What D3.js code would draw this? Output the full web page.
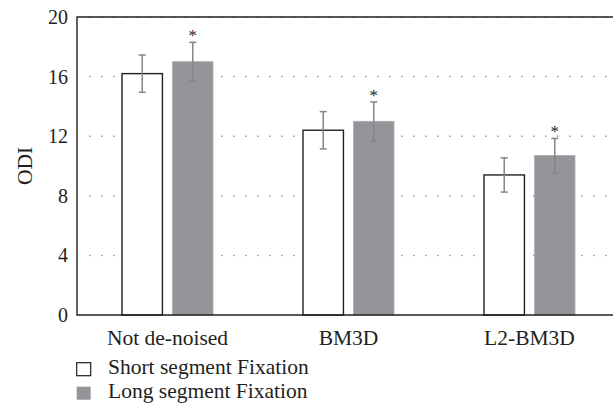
<!DOCTYPE html>
<html>
<head>
<meta charset="utf-8">
<script src="https://cdn.jsdelivr.net/npm/d3@7"></script>
<style>
  html, body { margin: 0; padding: 0; background: #fff; }
  svg { display: block; }
  text { font-family: "Liberation Serif", "DejaVu Serif", serif; fill: #231f20; }
</style>
</head>
<body>
<svg id="chart" width="613" height="404"></svg>
<script>
// ODI by de-noising method, short vs long segment fixation (mean ± error)
const categories = ["Not de-noised", "BM3D", "L2-BM3D"];
const seriesNames = ["Short segment Fixation", "Long segment Fixation"];
const shortValues = [16.2, 12.4, 9.4];
const longValues = [17.0, 13.0, 10.7];
const shortErrors = [1.25, 1.25, 1.15];
const longErrors = [1.3, 1.3, 1.15];
const longSignificant = [true, true, true];
const yTicks = [0, 4, 8, 12, 16, 20];
const yLabel = "ODI";

const svg = d3.select("#chart");

const margin = { left: 77, top: 17, bottom: 315, right: 620 };

const y = d3.scaleLinear().domain([0, 20]).range([margin.bottom, margin.top]);
const x0 = d3.scaleBand().domain(categories).range([margin.left, margin.right]).padding(0);
const x1 = d3.scaleBand().domain(["short", "long"]).range([0, x0.bandwidth()])
  .paddingInner(0.2).paddingOuter(0.89);

const rows = categories.map((c, i) => ({
  category: c,
  bars: [
    { key: "short", value: shortValues[i], err: shortErrors[i], star: false },
    { key: "long", value: longValues[i], err: longErrors[i], star: longSignificant[i] }
  ]
}));

// dotted horizontal gridlines
svg.append("g").selectAll("line").data(yTicks.filter(t => t > 0)).join("line")
  .attr("x1", margin.left + 12).attr("x2", margin.right)
  .attr("y1", d => y(d)).attr("y2", d => y(d))
  .attr("stroke", "#9a9a9a").attr("stroke-width", 1.5)
  .attr("stroke-dasharray", "1.5,10.5");

// bars
const groups = svg.append("g").selectAll("g").data(rows).join("g")
  .attr("transform", d => `translate(${x0(d.category)},0)`);

groups.selectAll("rect").data(d => d.bars).join("rect")
  .attr("x", d => x1(d.key))
  .attr("width", x1.bandwidth())
  .attr("y", d => y(d.value))
  .attr("height", d => y(0) - y(d.value))
  .attr("fill", d => d.key === "short" ? "#ffffff" : "#939598")
  .attr("stroke", d => d.key === "short" ? "#231f20" : "#a9abae")
  .attr("stroke-width", d => d.key === "short" ? 1.4 : 0.8);

// error bars
const eb = groups.selectAll("g.err").data(d => d.bars).join("g").attr("class", "err")
  .attr("stroke", "#858585").attr("stroke-width", 1.5);
const cx = d => x1(d.key) + x1.bandwidth() / 2;
eb.append("line")
  .attr("x1", cx).attr("x2", cx)
  .attr("y1", d => y(d.value + d.err)).attr("y2", d => y(d.value - d.err));
eb.append("line")
  .attr("x1", d => cx(d) - 3.5).attr("x2", d => cx(d) + 3.5)
  .attr("y1", d => y(d.value + d.err)).attr("y2", d => y(d.value + d.err));
eb.append("line")
  .attr("x1", d => cx(d) - 3.5).attr("x2", d => cx(d) + 3.5)
  .attr("y1", d => y(d.value - d.err)).attr("y2", d => y(d.value - d.err));

// significance markers
groups.selectAll("text.star").data(d => d.bars.filter(b => b.star)).join("text")
  .attr("class", "star")
  .attr("x", cx)
  .attr("y", d => y(d.value + d.err) - 10 + 9)
  .attr("text-anchor", "middle")
  .attr("font-size", 17)
  .text("*");

// frame: left axis, baseline, top border
svg.append("path")
  .attr("d", `M${margin.right},${margin.top}H${margin.left}V${margin.bottom}H${margin.right}`)
  .attr("fill", "none").attr("stroke", "#231f20").attr("stroke-width", 1.4);

// y axis tick labels
const yAxis = d3.axisLeft(y).tickValues(yTicks).tickSize(0).tickPadding(9);
const ya = svg.append("g").attr("transform", `translate(${margin.left},0)`).call(yAxis);
ya.select(".domain").remove();
ya.selectAll("text").attr("font-size", 20).attr("font-family", null).attr("fill", "#231f20");

// category labels
const xAxis = d3.axisBottom(x0).tickSize(0).tickPadding(15);
const xa = svg.append("g").attr("transform", `translate(0,${margin.bottom})`).call(xAxis);
xa.select(".domain").remove();
xa.selectAll("text").attr("font-size", 21.5).attr("font-family", null).attr("fill", "#231f20");

// y axis title
svg.append("text")
  .attr("transform", `translate(32,${(margin.top + margin.bottom) / 2}) rotate(-90)`)
  .attr("text-anchor", "middle")
  .attr("font-size", 21.5)
  .text(yLabel);

// legend
const legend = svg.append("g").selectAll("g").data(seriesNames).join("g")
  .attr("transform", (d, i) => `translate(76,${362 + i * 24})`);
legend.append("rect")
  .attr("x", 0.7).attr("y", 0.7).attr("width", 14).attr("height", 13)
  .attr("fill", (d, i) => i === 0 ? "#ffffff" : "#939598")
  .attr("stroke", (d, i) => i === 0 ? "#231f20" : "none")
  .attr("stroke-width", 1.2);
legend.append("text")
  .attr("x", 32).attr("y", 11.5)
  .attr("font-size", 21.5)
  .text(d => d);
</script>
</body>
</html>
